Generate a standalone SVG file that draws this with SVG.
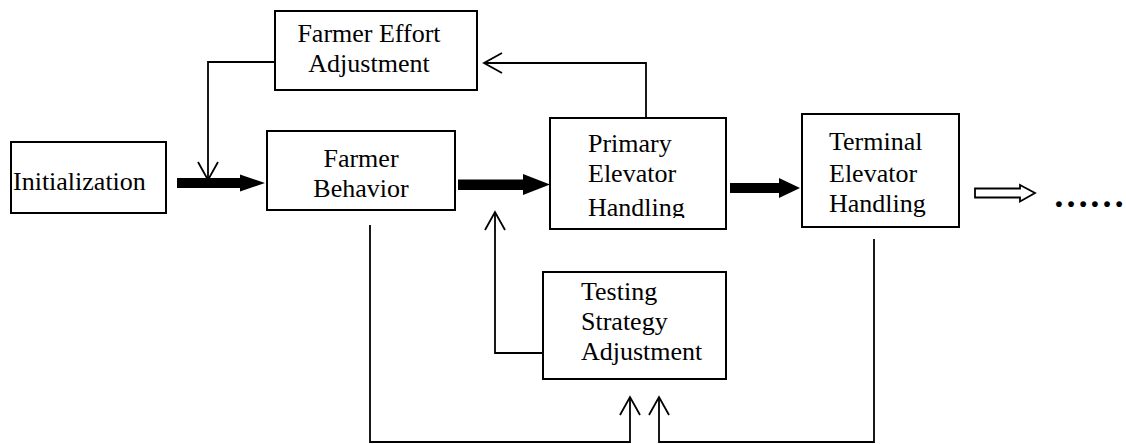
<svg xmlns="http://www.w3.org/2000/svg" width="1126" height="444" viewBox="0 0 1126 444">
<defs>
<style>
.box{fill:#fff;stroke:#000;stroke-width:2}
.t{font-family:'Liberation Serif','Tinos','Times New Roman','DejaVu Serif',serif;font-size:26px;fill:#000}
.ln{fill:none;stroke:#000;stroke-width:1.8}
.thick{fill:#000;stroke:none}
.hollow{fill:#fff;stroke:#000;stroke-width:1.8}
</style>
<marker id="open" markerUnits="userSpaceOnUse" viewBox="-20 -12 22 24" refX="0" refY="0" markerWidth="22" markerHeight="24" orient="auto">
<path d="M-18,-10 L0,0 L-18,10" fill="none" stroke="#000" stroke-width="1.8"/>
</marker>
<clipPath id="clipP"><rect x="549" y="100" width="180" height="118"/></clipPath>
</defs>
<rect width="1126" height="444" fill="#fff"/>

<g id="connectors">
<polygon class="thick" points="177,178 240,178 240,174.5 265,183 240,191.5 240,188 177,188"/>
<polygon class="thick" points="458,179.5 523,179.5 523,174 550,184.5 523,195 523,190 458,190"/>
<polygon class="thick" points="730,183 779,183 779,178 800,188 779,198 779,193 730,193"/>
<polygon class="hollow" points="975,188.5 1020,188.5 1020,185 1035,193 1020,201.5 1020,197.5 975,197.5"/>
<polyline class="ln" points="646,118 646,63 484,63" marker-end="url(#open)"/>
<polyline class="ln" points="275,62 208,62 208,180" marker-end="url(#open)"/>
<polyline class="ln" points="543,353 495,353 495,212" marker-end="url(#open)"/>
<polyline class="ln" points="370,225 370,442 630,442 630,397" marker-end="url(#open)"/>
<polyline class="ln" points="874,239 874,442 659,442 659,397" marker-end="url(#open)"/>
</g>

<g id="initialization">
<rect class="box" x="11" y="142" width="155" height="71"/>
<text class="t" x="13" y="190">Initialization</text>
</g>

<g id="farmer-behavior">
<rect class="box" x="267" y="131" width="188" height="79"/>
<text class="t" x="361" y="167" text-anchor="middle">Farmer</text>
<text class="t" x="361" y="197" text-anchor="middle">Behavior</text>
</g>

<g id="farmer-effort-adjustment">
<rect class="box" x="275" y="11" width="202" height="79"/>
<text class="t" x="369" y="42" text-anchor="middle">Farmer Effort</text>
<text class="t" x="369" y="72" text-anchor="middle">Adjustment</text>
</g>

<g id="primary-elevator">
<rect class="box" x="550" y="118" width="176" height="111"/>
<text class="t" x="588" y="152">Primary</text>
<text class="t" x="588" y="182">Elevator</text>
<text class="t" x="588" y="216" clip-path="url(#clipP)">Handling</text>
</g>

<g id="terminal-elevator">
<rect class="box" x="802" y="114" width="157" height="113"/>
<text class="t" x="829" y="150">Terminal</text>
<text class="t" x="829" y="182">Elevator</text>
<text class="t" x="829" y="212">Handling</text>
</g>

<g id="testing-strategy">
<rect class="box" x="543" y="272" width="183" height="107"/>
<text class="t" x="581" y="300">Testing</text>
<text class="t" x="581" y="330">Strategy</text>
<text class="t" x="581" y="360">Adjustment</text>
</g>

<g id="continuation">
<text class="t" x="1053" y="207" style="font-size:36px;font-weight:bold">……</text>
</g>
</svg>
